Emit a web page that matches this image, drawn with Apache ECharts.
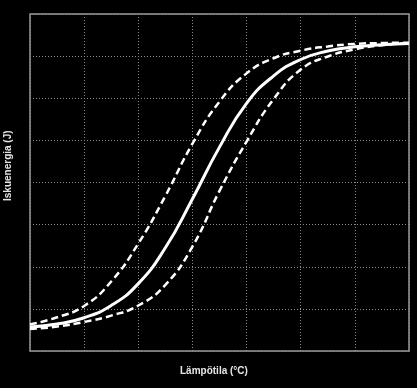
<!DOCTYPE html>
<html>
<head>
<meta charset="utf-8">
<script src="https://cdn.jsdelivr.net/npm/echarts@6/dist/echarts.min.js"></script>
<style>
html,body{margin:0;padding:0;background:#000;}
#c{width:417px;height:388px;}
</style>
</head>
<body>
<div id="c"></div>
<script>
// Temperature positions (grid units) and impact energy values
var temps = [0, 0.5, 1, 1.5, 2, 2.5, 3, 3.5, 4, 4.5, 5, 5.5, 6, 6.5, 7];
var meanCurve  = [0.57, 0.64, 0.79, 1.08, 1.60, 2.45, 3.61, 4.84, 5.88, 6.53, 6.92, 7.12, 7.22, 7.27, 7.30];
var upperCurve = [0.63, 0.80, 1.07, 1.65, 2.55, 3.68, 4.92, 5.92, 6.59, 6.95, 7.13, 7.23, 7.29, 7.31, 7.32];
var lowerCurve = [0.52, 0.58, 0.69, 0.84, 1.08, 1.57, 2.48, 3.80, 4.97, 5.98, 6.68, 6.99, 7.16, 7.26, 7.31];
var xName = 'Lämpötila (°C)';
var yName = 'Iskuenergia (J)';

function pairs(xs, ys){ return xs.map(function(x,i){ return [x, ys[i]]; }); }

var chart = echarts.init(document.getElementById('c'), null, {renderer:'canvas'});
var axisCommon = {
  type:'value',
  interval:1,
  axisLabel:{show:false},
  axisTick:{show:false},
  axisLine:{show:false},
  splitLine:{show:true, lineStyle:{color:'#8a8a8a', type:[1,2], width:1}}
};
var lineCommon = {type:'line', smooth:true, showSymbol:false};
chart.setOption({
  backgroundColor:'#000',
  animation:false,
  grid:{left:30, right:8, top:14, bottom:37, show:true, borderColor:'#9a9a9a', borderWidth:1.5, backgroundColor:'transparent'},
  xAxis: Object.assign({min:0, max:7}, axisCommon),
  yAxis: Object.assign({min:0, max:8}, axisCommon),
  graphic:[
    {type:'text', left:180, top:366, style:{text:xName, fill:'#e6e6e6', font:'bold 10px "Liberation Sans", Arial, sans-serif'}},
    {type:'text', x:3, y:201, rotation:Math.PI/2, style:{text:yName, fill:'#e6e6e6', font:'bold 10px "Liberation Sans", Arial, sans-serif'}}
  ],
  series:[
    Object.assign({data:pairs(temps, upperCurve), lineStyle:{color:'#fff', width:2.5, type:[7,4]}}, lineCommon),
    Object.assign({data:pairs(temps, lowerCurve), lineStyle:{color:'#fff', width:2.5, type:[7,4]}}, lineCommon),
    Object.assign({data:pairs(temps, meanCurve), lineStyle:{color:'#fff', width:3}}, lineCommon)
  ]
});
</script>
</body>
</html>
